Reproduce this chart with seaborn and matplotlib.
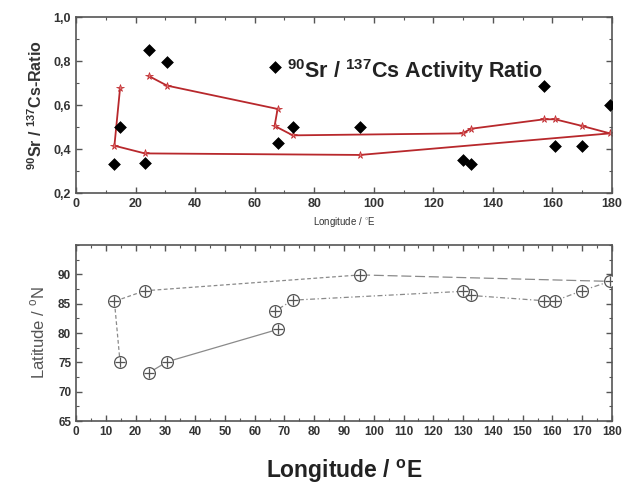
import matplotlib
matplotlib.use("Agg")
import matplotlib.pyplot as plt
from matplotlib.ticker import MultipleLocator, FuncFormatter, FixedLocator
import seaborn as sns
import pandas as pd

# ---- data (stations in cruise order) ----
longitude = [14.8, 12.9, 23.1, 95.4, 179.3, 169.9, 160.9, 157.2, 132.6, 129.8,
             72.8, 66.7, 67.7, 30.6, 24.4]
ratio = [0.499, 0.332, 0.338, 0.501, 0.599, 0.415, 0.415, 0.686, 0.330, 0.350,
         0.500, 0.774, 0.427, 0.797, 0.849]
ratio_smooth = [0.677, 0.415, 0.380, 0.373, 0.471, 0.505, 0.535, 0.535, 0.492, 0.471,
                0.462, 0.505, 0.582, 0.688, 0.732]
latitude = [75.0, 85.4, 87.2, 89.9, 88.8, 87.2, 85.5, 85.5, 86.4, 87.1,
            85.6, 83.7, 80.6, 75.1, 73.2]
leg = ["A", "A", "A", "A", "B", "C", "C", "C", "C", "C", "C", "C", "D", "D", "D"]
title_text = r"$\mathbf{^{90}}$Sr / $\mathbf{^{137}}$Cs Activity Ratio"

df = pd.DataFrame({"lon": longitude, "ratio": ratio, "smooth": ratio_smooth,
                   "lat": latitude, "leg": leg})

sns.set_style("ticks")
plt.rcParams["font.family"] = ["Liberation Sans", "DejaVu Sans"]
plt.rcParams["mathtext.fontset"] = "custom"
plt.rcParams["mathtext.rm"] = "Liberation Sans"
plt.rcParams["mathtext.bf"] = "Liberation Sans:bold"

fig = plt.figure(figsize=(6.24, 4.88), dpi=100)
ax1 = fig.add_axes([76/624, 1-193/488, 536/624, 176/488])
ax2 = fig.add_axes([76/624, 1-421/488, 536/624, 176/488])

axcol = "#555555"

# ---- top panel ----
sns.lineplot(data=df, x="lon", y="smooth", sort=False, ax=ax1, color="#b8282c",
             lw=1.3, marker="*", markersize=5.5, markerfacecolor="#e07070",
             markeredgecolor="#c02a2e", markeredgewidth=0.5, estimator=None)
sns.scatterplot(data=df, x="lon", y="ratio", ax=ax1, marker="D", s=36,
                color="black", edgecolor="black", zorder=5)
ax1.set_xlim(0, 180)
ax1.set_ylim(0.2, 1.0)
ax1.xaxis.set_major_locator(MultipleLocator(20))
ax1.xaxis.set_minor_locator(MultipleLocator(10))
ax1.yaxis.set_major_locator(MultipleLocator(0.2))
ax1.yaxis.set_minor_locator(MultipleLocator(0.1))
ax1.yaxis.set_major_formatter(FuncFormatter(lambda v, p: f"{v:.1f}".replace(".", ",")))
ax1.set_xlabel(r"Longitude / $^{\circ}$E", fontsize=7, color="#333333", labelpad=4)
ax1.set_ylabel(r"$\mathbf{^{90}}$Sr / $\mathbf{^{137}}$Cs-Ratio", fontsize=11.5,
               fontweight="bold", color="#333333", labelpad=6)
ax1.text(113.8, 0.755, title_text, ha="center", va="center", fontsize=15.5,
         fontweight="bold", color="#222222")

# ---- bottom panel ----
styles = {"A": (0, (3, 2)), "B": (0, (8, 3)), "C": (0, (4, 2, 1, 2)), "D": "-"}
for name, sub in df.groupby("leg"):
    sns.lineplot(data=sub, x="lon", y="lat", sort=False, ax=ax2, color="#8a8a8a",
                 lw=0.9, linestyle=styles[name], estimator=None)
bridge = df.iloc[[3, 4]]
sns.lineplot(data=bridge, x="lon", y="lat", sort=False, ax=ax2, color="#8a8a8a",
             lw=0.9, linestyle=(0, (8, 3)), estimator=None)
bridge2 = df.iloc[[4, 5]]
sns.lineplot(data=bridge2, x="lon", y="lat", sort=False, ax=ax2, color="#8a8a8a",
             lw=0.9, linestyle=(0, (4, 2, 1, 2)), estimator=None)
sns.scatterplot(data=df, x="lon", y="lat", ax=ax2, marker="o", s=72,
                facecolor="white", edgecolor="#555555", linewidth=0.9, zorder=5)
sns.scatterplot(data=df, x="lon", y="lat", ax=ax2, marker="+", s=55,
                color="#555555", linewidth=0.9, zorder=6)
ax2.set_xlim(0, 180)
ax2.set_ylim(65, 95)
ax2.xaxis.set_major_locator(MultipleLocator(10))
ax2.xaxis.set_minor_locator(MultipleLocator(5))
ax2.yaxis.set_major_locator(FixedLocator([65, 70, 75, 80, 85, 90]))
ax2.yaxis.set_minor_locator(MultipleLocator(2.5))
ax2.set_xlabel(r"Longitude / $\mathbf{^{o}}$E", fontsize=16.5, fontweight="bold",
               color="#222222", labelpad=14)
ax2.set_ylabel(r"Latitude / $^{\mathrm{o}}$N", fontsize=12, color="#555555", labelpad=8)

for ax in (ax1, ax2):
    for s in ax.spines.values():
        s.set_color(axcol)
        s.set_linewidth(1.2)
        s.set_visible(True)
    ax.tick_params(which="both", direction="in", top=True, right=True, color=axcol,
                   labelsize=9, labelcolor="#333333")
    ax.tick_params(which="major", length=4, width=1)
    ax.tick_params(which="minor", length=2.5, width=0.8)
    leg_ = ax.get_legend()
    if leg_:
        leg_.remove()
ax2.tick_params(labelsize=8.5)
for ax in (ax1, ax2):
    for lbl in ax.get_xticklabels() + ax.get_yticklabels():
        lbl.set_fontweight("bold")

fig.savefig("out.png", dpi=100)
